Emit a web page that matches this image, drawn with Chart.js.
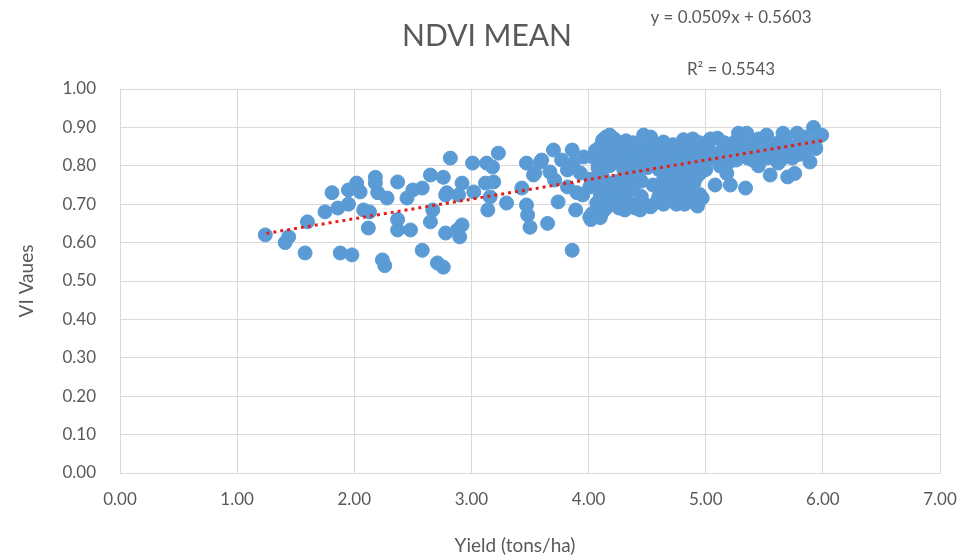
<!DOCTYPE html>
<html>
<head>
<meta charset="utf-8">
<script src="https://cdn.jsdelivr.net/npm/chart.js@4/dist/chart.umd.min.js"></script>
<style>
  html, body { margin: 0; padding: 0; background: #fff; }
  #wrap { width: 961px; height: 560px; }
</style>
</head>
<body>
<div id="wrap"><canvas id="ndviChart" width="961" height="560"></canvas></div>
<script>
// yield (tons/ha) and NDVI mean
const yieldVals = [
  1.24, 1.41, 1.44, 1.58, 1.60, 1.75, 1.81, 1.86, 1.88, 1.95, 1.98, 1.95, 2.02, 2.05, 2.08, 2.12, 2.13, 2.18, 2.18, 2.20,
  2.24, 2.26, 2.28, 2.37, 2.37, 2.37, 2.45, 2.48, 2.50, 2.58, 2.58, 2.65, 2.65, 2.67, 2.71, 2.76, 2.78, 2.79, 2.82,
  2.76, 2.78, 2.92, 2.89, 3.01, 3.02, 2.88, 2.92, 2.90, 3.13, 3.23, 3.18, 3.12, 3.19, 3.16, 3.14, 3.30, 3.43, 3.47,
  3.47, 3.48, 3.50, 3.54, 3.59, 3.65, 3.67, 3.70, 3.71, 3.74, 3.77, 3.82, 3.86, 3.87, 3.86, 3.89, 3.90, 3.93, 3.96,
  4.01, 4.04, 4.07, 4.10, 4.12, 4.18, 4.16, 4.21, 4.27, 4.30, 4.31, 4.40, 4.38, 4.41,
  3.53, 3.60, 3.82, 3.95, 4.01,
  4.15, 4.22, 4.47, 4.53, 4.64, 4.72, 4.81, 4.89, 4.95,
  4.10, 4.28, 4.35, 4.42, 4.58, 4.68, 4.76, 4.85,
  4.05, 4.14, 4.25, 4.33, 4.46, 4.55, 4.63, 4.72, 4.80, 4.90, 4.97,
  4.08, 4.18, 4.30, 4.38, 4.50, 4.60, 4.70, 4.78, 4.88, 4.96,
  4.02, 4.12, 4.25, 4.35, 4.62, 4.74, 4.84, 4.92,
  4.15, 4.28, 4.38, 4.68, 4.78, 4.88, 4.95,
  4.08, 4.20, 4.33, 4.48, 4.58, 4.72, 4.82, 4.93,
  4.03, 4.12, 4.44, 4.53, 4.64, 4.02, 4.10,
  4.06, 4.19, 4.24, 4.32, 4.40, 4.44, 4.52, 4.57, 4.66, 4.74, 4.83, 4.93, 4.99, 4.45, 4.22, 4.30, 4.55,
  4.70, 4.80, 4.90, 4.10, 4.22, 4.45, 4.60, 4.85, 4.15, 4.26, 4.38, 4.75, 4.88, 4.07, 4.65, 4.85, 4.95,
  5.02, 5.06, 5.10, 5.14, 5.20, 5.24, 5.28, 5.30, 5.35, 5.38, 5.40, 5.45, 5.48, 5.52, 5.55, 5.58, 5.62, 5.66, 5.70,
  5.74, 5.78, 5.82, 5.86, 5.92, 5.96, 5.99, 5.89, 5.62, 5.76, 5.70, 5.55, 5.34, 5.21, 5.08, 5.18, 4.97, 5.12, 5.45,
  5.04, 5.16, 5.22, 5.32, 5.42, 5.50, 5.60, 5.68, 5.76, 5.84, 5.90, 5.26, 5.36, 5.52, 5.66, 5.80, 5.94, 5.10, 5.00
];
const ndviVals = [
  0.620, 0.600, 0.615, 0.573, 0.654, 0.680, 0.730, 0.690, 0.573, 0.700, 0.568, 0.737, 0.755, 0.732, 0.685, 0.638, 0.680, 0.770, 0.755, 0.730,
  0.555, 0.540, 0.716, 0.660, 0.758, 0.633, 0.716, 0.633, 0.737, 0.580, 0.742, 0.654, 0.776, 0.685, 0.547, 0.536, 0.625, 0.730, 0.820,
  0.770, 0.724, 0.755, 0.724, 0.807, 0.732, 0.633, 0.646, 0.615, 0.807, 0.833, 0.797, 0.755, 0.758, 0.719, 0.685, 0.703, 0.742, 0.807,
  0.698, 0.672, 0.640, 0.781, 0.810, 0.650, 0.784, 0.841, 0.763, 0.706, 0.815, 0.745, 0.841, 0.807, 0.580, 0.685, 0.730, 0.781, 0.823,
  0.745, 0.672, 0.703, 0.781, 0.867, 0.880, 0.719, 0.755, 0.823, 0.719, 0.685, 0.690, 0.860, 0.781,
  0.776, 0.815, 0.789, 0.724, 0.667,
  0.875, 0.870, 0.880, 0.875, 0.862, 0.855, 0.868, 0.870, 0.860,
  0.850, 0.852, 0.848, 0.855, 0.850, 0.845, 0.850, 0.848,
  0.820, 0.825, 0.830, 0.820, 0.830, 0.822, 0.830, 0.820, 0.830, 0.825, 0.830,
  0.795, 0.800, 0.790, 0.800, 0.795, 0.790, 0.800, 0.790, 0.800, 0.795,
  0.765, 0.770, 0.760, 0.765, 0.755, 0.765, 0.760, 0.770,
  0.735, 0.730, 0.740, 0.735, 0.730, 0.740, 0.725,
  0.700, 0.705, 0.710, 0.700, 0.705, 0.715, 0.700, 0.695,
  0.675, 0.680, 0.685, 0.693, 0.700, 0.660, 0.665,
  0.840, 0.845, 0.810, 0.865, 0.835, 0.810, 0.845, 0.810, 0.815, 0.835, 0.810, 0.845, 0.810, 0.760, 0.745, 0.750, 0.750,
  0.750, 0.745, 0.755, 0.725, 0.720, 0.720, 0.720, 0.720, 0.690, 0.690, 0.695, 0.700, 0.710, 0.750, 0.780, 0.780, 0.780,
  0.850, 0.820, 0.872, 0.840, 0.810, 0.860, 0.885, 0.830, 0.885, 0.850, 0.815, 0.870, 0.835, 0.880, 0.850, 0.820, 0.860, 0.885, 0.845,
  0.820, 0.885, 0.860, 0.840, 0.900, 0.875, 0.880, 0.810, 0.807, 0.780, 0.771, 0.776, 0.742, 0.750, 0.750, 0.780, 0.716, 0.800, 0.800,
  0.870, 0.860, 0.830, 0.860, 0.845, 0.860, 0.840, 0.865, 0.850, 0.875, 0.855, 0.815, 0.820, 0.820, 0.820, 0.830, 0.845, 0.830, 0.790
];

// linear trendline ends (y = 0.0509x + 0.5603)
const trendX = [1.25, 6.00];
const trendY = [0.624, 0.866];

const yTicks = [0, 0.1, 0.2, 0.3, 0.4, 0.5, 0.6, 0.7, 0.8, 0.9, 1.0];
const xTicks = [0, 1, 2, 3, 4, 5, 6, 7];

const points = yieldVals.map((x, i) => ({ x: x, y: ndviVals[i] }));
const trend = trendX.map((x, i) => ({ x: x, y: trendY[i] }));

const FONT = 'Lato, "Open Sans", sans-serif';
const GREY = '#595959';

// chart title, equation and axis titles
const labelsPlugin = {
  id: 'labels',
  afterDraw(chart) {
    const ctx = chart.ctx;
    const area = chart.chartArea;
    ctx.save();
    ctx.fillStyle = GREY;
    ctx.textAlign = 'center';
    ctx.textBaseline = 'middle';
    ctx.font = '30px ' + FONT;
    ctx.fillText('NDVI MEAN', 487, 36);
    ctx.font = '17px ' + FONT;
    ctx.fillText('y = 0.0509x + 0.5603', 731, 18);
    ctx.fillText('R\u00B2 = 0.5543', 731, 70);
    ctx.font = '19px ' + FONT;
    ctx.fillText('Yield (tons/ha)', 515, 546);
    ctx.translate(27, (area.top + area.bottom) / 2);
    ctx.rotate(-Math.PI / 2);
    ctx.fillText('VI Vaues', 0, 0);
    ctx.restore();
  }
};

const config = {
  type: 'scatter',
  data: {
    datasets: [{
      label: 'Trend',
      type: 'line',
      data: trend,
      borderColor: '#E3201B',
      borderWidth: 3,
      borderDash: [3, 4],
      pointRadius: 0,
      fill: false,
      order: 0
    }, {
      label: 'NDVI MEAN',
      data: points,
      backgroundColor: '#5B9BD5',
      borderColor: '#5B9BD5',
      pointRadius: 7,
      pointHoverRadius: 7,
      order: 1
    }]
  },
  options: {
    responsive: false,
    animation: false,
    layout: { padding: { top: 89, right: 21, left: 0, bottom: 0 } },
    plugins: {
      legend: { display: false },
      tooltip: { enabled: false }
    },
    scales: {
      x: {
        type: 'linear',
        min: 0,
        max: 7,
        afterBuildTicks: (s) => { s.ticks = xTicks.map(v => ({ value: v })); },
        afterFit: (s) => { s.height = 87; s.paddingLeft = 0; s.paddingRight = 0; },
        ticks: {
          color: GREY,
          font: { family: FONT, size: 17 },
          padding: 16,
          callback: (v) => Number(v).toFixed(2)
        },
        grid: { color: '#D9D9D9', drawTicks: false },
        border: { color: '#D9D9D9' }
      },
      y: {
        min: 0,
        max: 1,
        afterBuildTicks: (s) => { s.ticks = yTicks.map(v => ({ value: v })); },
        afterFit: (s) => { s.width = 120; s.paddingTop = 0; s.paddingBottom = 0; },
        ticks: {
          color: GREY,
          font: { family: FONT, size: 17 },
          padding: 24,
          callback: (v) => Number(v).toFixed(2)
        },
        grid: { color: '#D9D9D9', drawTicks: false },
        border: { color: '#D9D9D9' }
      }
    }
  },
  plugins: [labelsPlugin]
};

const ndviChart = new Chart(document.getElementById('ndviChart'), config);
</script>
</body>
</html>
